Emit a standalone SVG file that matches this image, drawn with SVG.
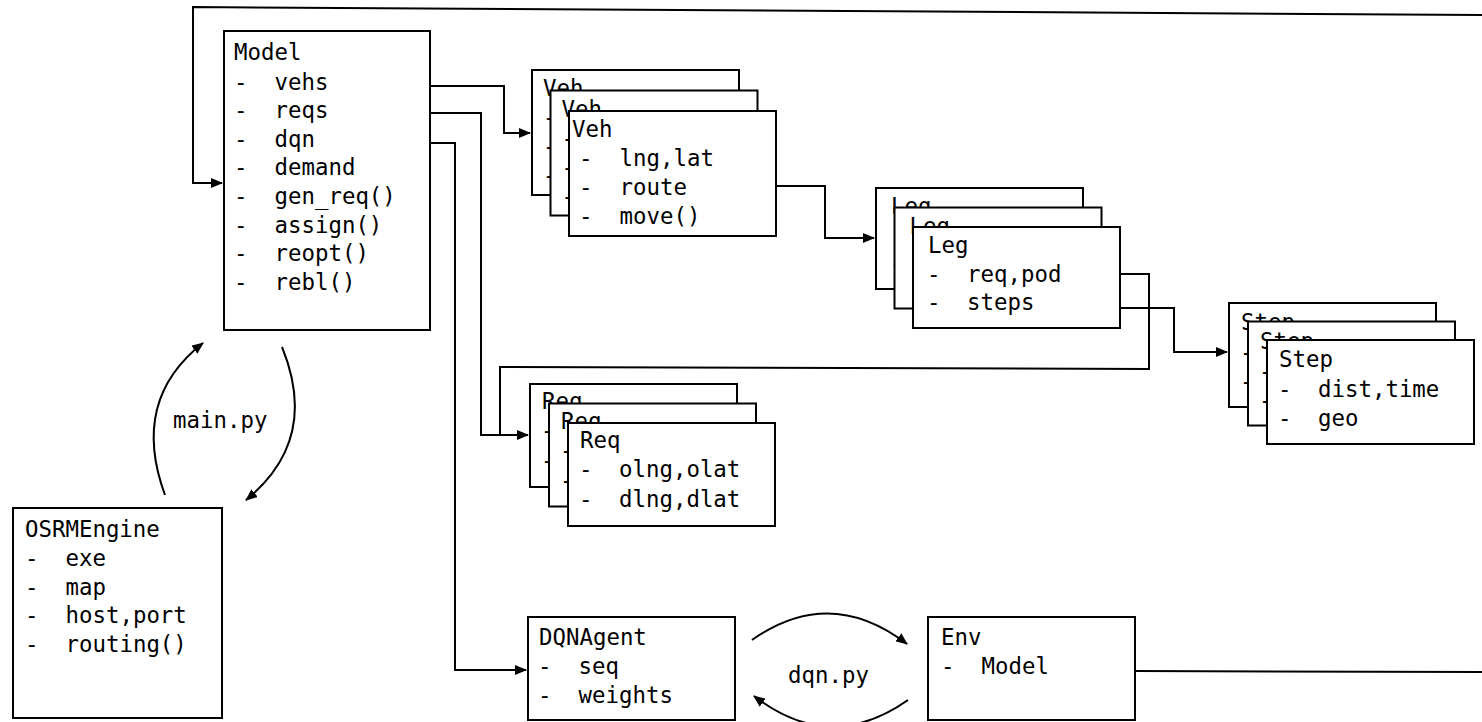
<svg xmlns="http://www.w3.org/2000/svg" width="1482" height="722" viewBox="0 0 1482 722">
<style>
.box{fill:#fff;stroke:#000;stroke-width:2}
.t{font-family:"DejaVu Sans Mono","Liberation Mono",monospace;font-size:22.4px;fill:#000}
.c{fill:none;stroke:#000;stroke-width:2}
</style>
<defs>
<marker id="ah" viewBox="0 0 12 10" refX="11" refY="5" markerWidth="12" markerHeight="10" markerUnits="userSpaceOnUse" orient="auto">
<path d="M0,0 L12,5 L0,10 Z" fill="#000"/>
</marker>
</defs>
<rect width="1482" height="722" fill="#fff"/>

<g id="connectors">
<path class="c" d="M1482,15 L193,7 L193,183 L222,183" marker-end="url(#ah)"/>
<path class="c" d="M1135,671 L1482,672"/>
<path class="c" d="M430,86 L504,86 L504,133 L530,133" marker-end="url(#ah)"/>
<path class="c" d="M430,113 L481,113 L481,435 L528,435" marker-end="url(#ah)"/>
<path class="c" d="M430,143 L455,143 L455,670 L526,670" marker-end="url(#ah)"/>
<path class="c" d="M776,186 L825,186 L825,238 L874,238" marker-end="url(#ah)"/>
<path class="c" d="M1120,274 L1149,274 L1149,369 L500,367 L500,435"/>
<path class="c" d="M1120,308 L1174,308 L1174,352 L1227,352" marker-end="url(#ah)"/>
<path class="c" d="M165,495 Q130,400 203,343" marker-end="url(#ah)"/>
<path class="c" d="M282,347 Q320,440 246,500" marker-end="url(#ah)"/>
<path class="c" d="M752,640 Q830,585 907,644" marker-end="url(#ah)"/>
<path class="c" d="M908,700 Q830,755 754,696" marker-end="url(#ah)"/>
</g>

<g id="model">
<rect class="box" x="224" y="31" width="206" height="299"/>
<text class="t" x="234" y="60">Model</text>
<text class="t" x="234" y="89.5">-</text><text class="t" x="274.5" y="89.5">vehs</text>
<text class="t" x="234" y="118">-</text><text class="t" x="274.5" y="118">reqs</text>
<text class="t" x="234" y="146.7">-</text><text class="t" x="274.5" y="146.7">dqn</text>
<text class="t" x="234" y="175.3">-</text><text class="t" x="274.5" y="175.3">demand</text>
<text class="t" x="234" y="203.9">-</text><text class="t" x="274.5" y="203.9">gen_req()</text>
<text class="t" x="234" y="232.5">-</text><text class="t" x="274.5" y="232.5">assign()</text>
<text class="t" x="234" y="261.1">-</text><text class="t" x="274.5" y="261.1">reopt()</text>
<text class="t" x="234" y="289.7">-</text><text class="t" x="274.5" y="289.7">rebl()</text>
</g>

<g id="osrm">
<rect class="box" x="13" y="508" width="209" height="210"/>
<text class="t" x="25" y="537">OSRMEngine</text>
<text class="t" x="25" y="566">-</text><text class="t" x="65.5" y="566">exe</text>
<text class="t" x="25" y="594.5">-</text><text class="t" x="65.5" y="594.5">map</text>
<text class="t" x="25" y="623">-</text><text class="t" x="65.5" y="623">host,port</text>
<text class="t" x="25" y="652">-</text><text class="t" x="65.5" y="652">routing()</text>
</g>

<g id="veh1">
<rect class="box" x="532" y="70" width="207" height="125"/>
<text class="t" x="543" y="96">Veh</text>
<text class="t" x="543" y="125">-</text>
<text class="t" x="543" y="154">-</text>
<text class="t" x="543" y="183">-</text>
</g>
<g id="veh2">
<rect class="box" x="550.5" y="90.5" width="207" height="125"/>
<text class="t" x="561.5" y="116.5">Veh</text>
<text class="t" x="561.5" y="145.5">-</text>
<text class="t" x="561.5" y="174.5">-</text>
<text class="t" x="561.5" y="203.5">-</text>
</g>
<g id="veh3">
<rect class="box" x="569" y="111" width="207" height="125"/>
<text class="t" x="572" y="137">Veh</text>
<text class="t" x="579" y="166">-</text><text class="t" x="619.5" y="166">lng,lat</text>
<text class="t" x="579" y="195">-</text><text class="t" x="619.5" y="195">route</text>
<text class="t" x="579" y="224">-</text><text class="t" x="619.5" y="224">move()</text>
</g>

<g id="leg1">
<rect class="box" x="876" y="188" width="207" height="101"/>
<text class="t" x="891" y="214">Leg</text>
<text class="t" x="890" y="243">-</text>
<text class="t" x="890" y="271">-</text>
</g>
<g id="leg2">
<rect class="box" x="894.5" y="207.5" width="207" height="101"/>
<text class="t" x="909.5" y="233.5">Leg</text>
<text class="t" x="908.5" y="262.5">-</text>
<text class="t" x="908.5" y="290.5">-</text>
</g>
<g id="leg3">
<rect class="box" x="913" y="227" width="207" height="101"/>
<text class="t" x="928" y="253">Leg</text>
<text class="t" x="927" y="282">-</text><text class="t" x="967" y="282">req,pod</text>
<text class="t" x="927" y="310">-</text><text class="t" x="967" y="310">steps</text>
</g>

<g id="step1">
<rect class="box" x="1229" y="303" width="207" height="104"/>
<text class="t" x="1241" y="330">Step</text>
<text class="t" x="1240" y="360">-</text>
<text class="t" x="1240" y="389">-</text>
</g>
<g id="step2">
<rect class="box" x="1248" y="321.5" width="207" height="104"/>
<text class="t" x="1260" y="348.5">Step</text>
<text class="t" x="1259" y="378.5">-</text>
<text class="t" x="1259" y="407.5">-</text>
</g>
<g id="step3">
<rect class="box" x="1267" y="340" width="207" height="104"/>
<text class="t" x="1279" y="367">Step</text>
<text class="t" x="1278" y="397">-</text><text class="t" x="1318" y="397">dist,time</text>
<text class="t" x="1278" y="426">-</text><text class="t" x="1318" y="426">geo</text>
</g>

<g id="req1">
<rect class="box" x="530" y="384" width="207" height="103"/>
<text class="t" x="542" y="409">Req</text>
<text class="t" x="541" y="438">-</text>
<text class="t" x="541" y="468">-</text>
</g>
<g id="req2">
<rect class="box" x="549" y="403.5" width="207" height="103"/>
<text class="t" x="561" y="428.5">Req</text>
<text class="t" x="560" y="457.5">-</text>
<text class="t" x="560" y="487.5">-</text>
</g>
<g id="req3">
<rect class="box" x="568" y="423" width="207" height="103"/>
<text class="t" x="580" y="448">Req</text>
<text class="t" x="579" y="477">-</text><text class="t" x="619" y="477">olng,olat</text>
<text class="t" x="579" y="507">-</text><text class="t" x="619" y="507">dlng,dlat</text>
</g>

<g id="dqnagent">
<rect class="box" x="528" y="617" width="207" height="103"/>
<text class="t" x="539" y="645">DQNAgent</text>
<text class="t" x="538" y="674">-</text><text class="t" x="578.5" y="674">seq</text>
<text class="t" x="538" y="703">-</text><text class="t" x="578.5" y="703">weights</text>
</g>

<g id="env">
<rect class="box" x="928" y="617" width="207" height="103"/>
<text class="t" x="941" y="645">Env</text>
<text class="t" x="941" y="674">-</text><text class="t" x="981.5" y="674">Model</text>
</g>

<g id="labels">
<text class="t" x="173" y="428">main.py</text>
<text class="t" x="788" y="683">dqn.py</text>
</g>
</svg>
